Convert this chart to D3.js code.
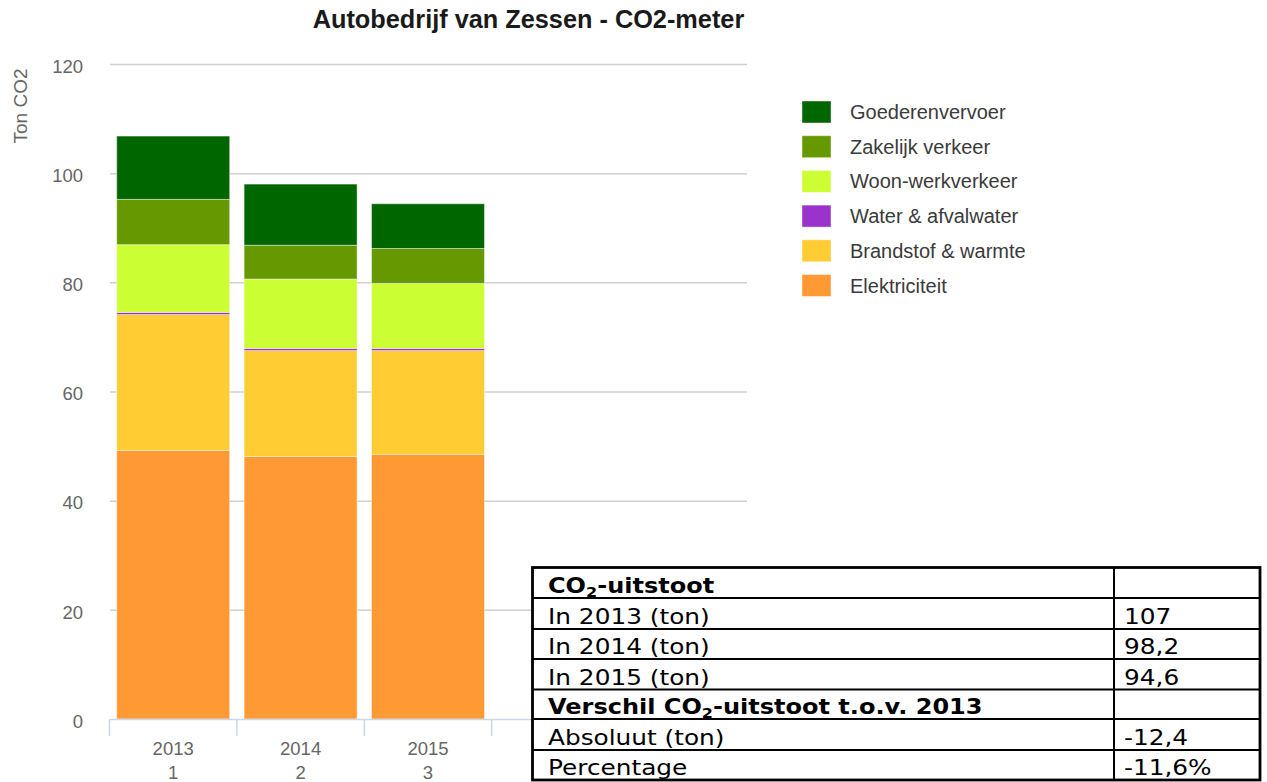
<!DOCTYPE html>
<html>
<head>
<meta charset="utf-8">
<script src="https://cdn.jsdelivr.net/npm/d3@7"></script>
<style>
  html, body { margin: 0; padding: 0; background: #fff; }
  svg { display: block; }
</style>
</head>
<body>
<svg id="chart" width="1267" height="782"></svg>
<script>
// ---------- data ----------
const years = ["2013", "2014", "2015", "", ""];
const yearIndex = ["1", "2", "3", "", ""];
const seriesNames = ["Elektriciteit", "Brandstof & warmte", "Water & afvalwater", "Woon-werkverkeer", "Zakelijk verkeer", "Goederenvervoer"];
const seriesColors = ["#ff9933", "#ffcc33", "#9933cc", "#ccff33", "#669900", "#006600"];
const elektriciteit = [49.2, 48.1, 48.5];
const brandstof = [24.9, 19.4, 19.0];
const water = [0.4, 0.4, 0.4];
const woonwerk = [12.4, 12.7, 11.9];
const zakelijk = [8.3, 6.2, 6.4];
const goederen = [11.6, 11.2, 8.2];
const yTicks = [0, 20, 40, 60, 80, 100, 120];

const tableLabels = ["In 2013 (ton)", "In 2014 (ton)", "In 2015 (ton)", "Absoluut (ton)", "Percentage"];
const tableValues = ["107", "98,2", "94,6", "-12,4", "-11,6%"];

// ---------- setup ----------
const svg = d3.select("#chart");
const font = "'Liberation Sans', Arial, sans-serif";

const seriesData = [elektriciteit, brandstof, water, woonwerk, zakelijk, goederen];
const rows = years.slice(0, 3).map((yr, i) => {
  const o = { year: yr };
  seriesNames.forEach((n, k) => o[n] = seriesData[k][i]);
  return o;
});
const stack = d3.stack().keys(seriesNames)(rows);

const x = d3.scaleBand().domain(d3.range(years.length)).range([109.5, 746.5])
  .paddingInner(0.113).paddingOuter(0.0565);
const xOuter = d3.scaleBand().domain(d3.range(years.length)).range([109.5, 746.5]);
const y = d3.scaleLinear().domain([0, 120]).range([719, 64]);

// Title
svg.append("text")
  .attr("x", 528.5).attr("y", 28)
  .attr("text-anchor", "middle")
  .attr("font-family", font).attr("font-weight", "bold")
  .attr("font-size", 25.3).attr("fill", "#1a1a1a")
  .text("Autobedrijf van Zessen - CO2-meter");

// Gridlines
const yAxis = d3.axisLeft(y).tickValues(yTicks).tickSize(-(746.5 - 109.5)).tickPadding(27).tickFormat(d3.format("d"));
const gy = svg.append("g").attr("transform", "translate(110,0)").call(yAxis);
gy.select(".domain").remove();
gy.selectAll(".tick line").attr("stroke", "#d0d0d0").attr("stroke-width", 1.5)
  .filter(d => d === 0).remove();
gy.selectAll(".tick text")
  .attr("font-family", font).attr("font-size", 18.5).attr("fill", "#666")
  .attr("dy", "0.45em");

// Y title
svg.append("text")
  .attr("transform", "translate(27,106) rotate(-90)")
  .attr("text-anchor", "middle")
  .attr("font-family", font).attr("font-size", 19).attr("fill", "#666")
  .text("Ton CO2");

// Bars
const layers = svg.append("g").selectAll("g").data(stack).join("g")
  .attr("fill", (d, i) => seriesColors[i]);
layers.selectAll("rect").data(d => d).join("rect")
  .attr("x", (d, i) => x(i))
  .attr("width", x.bandwidth())
  .attr("y", d => y(d[1]))
  .attr("height", d => y(d[0]) - y(d[1]))
  .attr("stroke", "#fff").attr("stroke-opacity", 0.45).attr("stroke-width", 1);

// X axis
const gx = svg.append("g");
gx.append("line").attr("x1", 109.5).attr("x2", 746.5).attr("y1", 719.5).attr("y2", 719.5)
  .attr("stroke", "#ccd6eb").attr("stroke-width", 1.5);
gx.selectAll("line.tk").data(d3.range(years.length + 1)).join("line")
  .attr("class", "tk")
  .attr("x1", i => i < years.length ? xOuter(i) : xOuter(years.length - 1) + xOuter.bandwidth())
  .attr("x2", i => i < years.length ? xOuter(i) : xOuter(years.length - 1) + xOuter.bandwidth())
  .attr("y1", 719).attr("y2", 736)
  .attr("stroke", "#ccd6eb").attr("stroke-width", 1.5);
gx.selectAll("text.yr").data(years).join("text").attr("class", "yr")
  .attr("x", (d, i) => xOuter(i) + xOuter.bandwidth() / 2).attr("y", 755)
  .attr("text-anchor", "middle").attr("font-family", font).attr("font-size", 18.5).attr("fill", "#666")
  .text(d => d);
gx.selectAll("text.ix").data(yearIndex).join("text").attr("class", "ix")
  .attr("x", (d, i) => xOuter(i) + xOuter.bandwidth() / 2).attr("y", 779)
  .attr("text-anchor", "middle").attr("font-family", font).attr("font-size", 18.5).attr("fill", "#666")
  .text(d => d);

// Legend
const legendOrder = d3.range(seriesNames.length).reverse();
const lg = svg.append("g").selectAll("g").data(legendOrder).join("g")
  .attr("transform", (d, j) => `translate(802,${101 + j * 34.7})`);
lg.append("rect").attr("width", 29).attr("height", 22)
  .attr("fill", d => seriesColors[d]).attr("stroke", "#fff").attr("stroke-opacity", 0.45);
lg.append("text").attr("x", 48).attr("y", 18)
  .attr("font-family", font).attr("font-size", 20).attr("fill", "#3a3a3a")
  .text(d => seriesNames[d]);

// Table
const tfont = "'DejaVu Sans', Verdana, sans-serif";
const tLeft = 532.5, tRight = 1260, tDiv = 1114;
const rowLines = [567.5, 598, 629, 659, 689.5, 719, 750, 780];
const tg = svg.append("g");
tg.append("rect").attr("x", tLeft).attr("y", rowLines[0])
  .attr("width", tRight - tLeft).attr("height", rowLines[7] - rowLines[0])
  .attr("fill", "#fff").attr("stroke", "#000").attr("stroke-width", 2.8);
tg.selectAll("line.r").data(rowLines.slice(1, 7)).join("line").attr("class", "r")
  .attr("x1", tLeft).attr("x2", tRight).attr("y1", d => d).attr("y2", d => d)
  .attr("stroke", "#000").attr("stroke-width", 2);
tg.append("line").attr("x1", tDiv).attr("x2", tDiv).attr("y1", rowLines[0]).attr("y2", rowLines[7])
  .attr("stroke", "#000").attr("stroke-width", 2);

function cellText(xp, yb, bold) {
  return tg.append("text")
    .attr("transform", `translate(${xp},${yb}) scale(${bold ? 1.144 : 1.18},1)`)
    .attr("font-family", tfont).attr("font-size", 21).attr("fill", "#000")
    .attr("font-weight", bold ? "bold" : "normal");
}
// header rows
const h1 = cellText(548, rowLines[1] - 5, true);
h1.append("tspan").text("CO");
h1.append("tspan").attr("font-size", 14).attr("dy", 4).text("2");
h1.append("tspan").attr("dy", -4).text("-uitstoot");
const h2 = cellText(548, rowLines[5] - 5, true);
h2.append("tspan").text("Verschil CO");
h2.append("tspan").attr("font-size", 14).attr("dy", 4).text("2");
h2.append("tspan").attr("dy", -4).text("-uitstoot t.o.v. 2013");

const dataRowBottoms = [rowLines[2], rowLines[3], rowLines[4], rowLines[6], rowLines[7]];
tableLabels.forEach((lab, i) => {
  cellText(548, dataRowBottoms[i] - 5, false).text(lab);
  cellText(1124, dataRowBottoms[i] - 5, false).text(tableValues[i]);
});
</script>
</body>
</html>
